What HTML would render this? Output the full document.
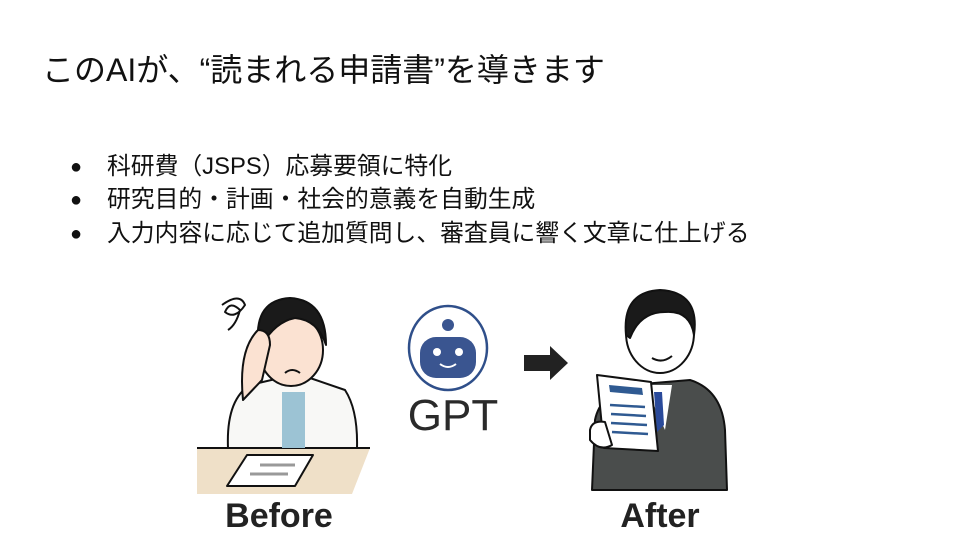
<!DOCTYPE html>
<html><head><meta charset="utf-8"><style>
body{margin:0;width:960px;height:540px;background:#fff;overflow:hidden;position:relative;font-family:"Liberation Sans","Noto Sans CJK JP",sans-serif;color:#111}
.t{position:absolute;left:42px;top:50px;font-size:32px;line-height:40px;white-space:nowrap}
.b{position:absolute;left:70px;font-size:23.8px;line-height:34px;white-space:nowrap}
.b span{display:inline-block;width:37px;font-size:20px;vertical-align:top}
svg{position:absolute;left:0;top:0}
</style></head><body>
<div class="t">このAIが、“読まれる申請書”を導きます</div>
<div class="b" style="top:150px"><span>●</span>科研費（JSPS）応募要領に特化</div>
<div class="b" style="top:183px"><span>●</span>研究目的・計画・社会的意義を自動生成</div>
<div class="b" style="top:217px"><span>●</span>入力内容に応じて追加質問し、審査員に響く文章に仕上げる</div>
<svg width="960" height="540" viewBox="0 0 960 540">
<g stroke="#111" stroke-width="2" stroke-linejoin="round">
<path d="M197 448 L370 448 L352 494 L197 494 Z" fill="#efe0c8" stroke="none"/>
<line x1="197" y1="448" x2="370" y2="448"/>
<path d="M228 448 Q226 400 250 385 L280 378 L310 378 L345 390 Q358 410 357 448 Z" fill="#f8f8f6"/>
<path d="M282 392 L305 392 L305 448 L282 448 Z" fill="#9cc3d4" stroke="none"/>
<ellipse cx="291" cy="350" rx="32" ry="36" fill="#fbe2d2"/>
<path d="M258 342 Q255 300 290 298 Q326 300 326 345 Q318 320 295 318 Q275 322 262 345 Z" fill="#1a1a1a"/>
<path d="M243 400 Q238 350 258 330 Q270 330 270 345 L262 380 Z" fill="#fbe2d2"/>
<path d="M285 373 Q292 367 300 373" fill="none"/>
<path d="M222 305 Q240 292 245 305 Q235 320 225 312 Q230 300 240 310 Q236 325 228 330" fill="none"/>
<path d="M227 486 L247 455 L313 455 L295 486 Z" fill="#fff"/>
<line x1="260" y1="465" x2="295" y2="465" stroke="#999" stroke-width="3"/>
<line x1="250" y1="474" x2="288" y2="474" stroke="#999" stroke-width="3"/>
<ellipse cx="448" cy="348" rx="39" ry="42" fill="#fff" stroke="#2f4f8a" stroke-width="2.5"/>
<circle cx="448" cy="325" r="6" fill="#3a5590" stroke="none"/>
<rect x="420" y="337" width="56" height="41" rx="16" fill="#3a5590" stroke="none"/>
<circle cx="437" cy="352" r="4" fill="#fff" stroke="none"/>
<circle cx="459" cy="352" r="4" fill="#fff" stroke="none"/>
<path d="M440 364 Q448 370 456 364" fill="none" stroke="#fff"/>
<path d="M524 355 L550 355 L550 346 L568 363 L550 380 L550 371 L524 371 Z" fill="#222" stroke="none"/>
<path d="M592 490 L595 420 Q600 395 630 385 L690 380 Q722 390 725 430 L727 490 Z" fill="#4a4d4c"/>
<path d="M645 385 L672 385 L665 430 Z" fill="#fff" stroke="none"/>
<path d="M654 392 L662 392 L664 425 L657 432 Z" fill="#2a4a9a" stroke="none"/>
<ellipse cx="660" cy="333" rx="34" ry="40" fill="#fff"/>
<path d="M626 335 Q622 292 660 290 Q700 292 694 335 Q690 310 665 312 Q640 312 630 338 Z" fill="#1a1a1a"/>
<path d="M652 358 Q662 364 672 356" fill="none"/>
<path d="M597 375 L651 382 L658 451 L604 448 Z" fill="#fff"/>
<path d="M609 385 L642 388 L643 395 L610 392 Z" fill="#2f5a92" stroke="none"/>
<g stroke="#2f5a92" stroke-width="2.5"><line x1="610" y1="405" x2="645" y2="407"/><line x1="611" y1="414" x2="646" y2="416"/><line x1="611" y1="423" x2="647" y2="425"/><line x1="612" y1="432" x2="648" y2="434"/></g>
<path d="M590 430 Q592 420 605 422 L612 445 Q600 452 590 440 Z" fill="#fff"/>
</g>
<text x="453" y="430" font-family="Liberation Sans,sans-serif" font-size="44" text-anchor="middle" fill="#2a2a2a">GPT</text>
<text x="279" y="527" font-family="Liberation Sans,sans-serif" font-weight="bold" font-size="34" text-anchor="middle" fill="#222">Before</text>
<text x="660" y="527" font-family="Liberation Sans,sans-serif" font-weight="bold" font-size="34" text-anchor="middle" fill="#222">After</text>
</svg>
</body></html>
